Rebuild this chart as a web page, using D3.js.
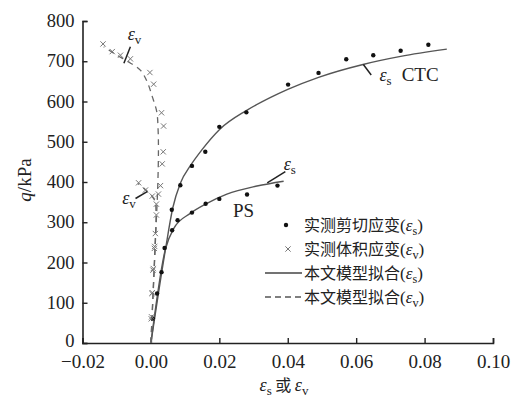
<!DOCTYPE html>
<html>
<head>
<meta charset="utf-8">
<script src="https://cdn.jsdelivr.net/npm/d3@7"></script>
<style>
body { margin: 0; background: #fff; }
text { font-family: "Liberation Serif", "DejaVu Serif", serif; }
</style>
</head>
<body>
<div id="chart"></div>
<script>
'use strict';

// ticks
var xTicks = [-0.02, 0.00, 0.02, 0.04, 0.06, 0.08, 0.10];
var yTicks = [0, 100, 200, 300, 400, 500, 600, 700, 800];

// measured shear strain (dots) [strain, q]
var ctcShear = [[0.0006, 60], [0.0018, 123], [0.0031, 176], [0.0040, 236], [0.0061, 331], [0.0086, 392],
	[0.0120, 440], [0.0159, 475], [0.0200, 537], [0.0279, 573], [0.0401, 642], [0.0490, 671],
	[0.0571, 705], [0.0650, 715], [0.0730, 726], [0.0811, 741]];
var psShear = [[0.0062, 280], [0.0078, 305], [0.0120, 324], [0.0160, 346], [0.0200, 358],
	[0.0281, 369], [0.0370, 391]];

// measured volumetric strain (crosses)
var ctcVol = [[0.0001, 60], [0.0003, 123], [0.0006, 181], [0.0010, 235], [0.0013, 272], [0.0016, 318],
	[0.0022, 370], [0.0028, 391], [0.0033, 445], [0.0036, 475], [0.0037, 539], [0.0031, 572],
	[0.0008, 643], [-0.0003, 672], [-0.0060, 706], [-0.0089, 715], [-0.0113, 724], [-0.0140, 743]];
var psVol = [[0.0002, 65], [0.0004, 125], [0.0007, 185], [0.0011, 240], [0.0016, 345],
	[0.0004, 365], [-0.0016, 380], [-0.0036, 398]];

// model fits
var ctcShearFit = [[0, 0], [0.0042, 230], [0.0064, 336], [0.0086, 397], [0.0115, 440], [0.0150, 481],
	[0.0200, 530], [0.0280, 578], [0.0350, 610], [0.0400, 630], [0.0490, 660], [0.0620, 692],
	[0.0730, 712], [0.0865, 730]];
var psShearFit = [[0, 0], [0.0042, 232], [0.0067, 285], [0.0115, 322], [0.0164, 347], [0.0222, 370],
	[0.0310, 390], [0.0388, 402]];
var ctcVolFit = [[0, 0], [0.0008, 150], [0.0014, 270], [0.0020, 390], [0.0022, 480], [0.0021, 530],
	[0.0017, 575], [0.0004, 612], [-0.0011, 649], [-0.0031, 678], [-0.0069, 700], [-0.0109, 720],
	[-0.0138, 736]];
var psVolFit = [[0, 0], [0.0006, 120], [0.0012, 240], [0.0015, 320], [0.0012, 352], [0.0002, 366],
	[-0.0016, 381], [-0.0038, 396]];

var legendLabels = ["实测剪切应变", "实测体积应变", "本文模型拟合", "本文模型拟合"];
var legendSubs = ["s", "v", "s", "v"];

var width = 515, height = 399;

var x = d3.scaleLinear().domain([-0.02, 0.10]).range([82.5, 493]);
var y = d3.scaleLinear().domain([0, 800]).range([343, 21]);

var svg = d3.select("#chart").//
append("svg").//
attr("width", width).//
attr("height", height);

// axes
var xAxis = svg.append("g").//
attr("transform", "translate(0," + y(0) + ")").//
call(d3.axisBottom(x).tickValues(xTicks).tickFormat(d3.format(".2f")).tickSizeInner(-5).tickSizeOuter(-5).tickPadding(12));
var yAxis = svg.append("g").//
attr("transform", "translate(" + x(-0.02) + ",0)").//
call(d3.axisLeft(y).tickValues(yTicks).tickSizeInner(-5).tickSizeOuter(-5).tickPadding(8));

[xAxis, yAxis].forEach(function(g) {
	g.attr("font-family", null).attr("font-size", null);
	g.select(".domain").attr("stroke", "#222").attr("stroke-width", 1.6);
	g.selectAll(".tick line").attr("stroke", "#222").attr("stroke-width", 1.4);
	g.selectAll(".tick text").attr("fill", "#222").style("font-size", "19px");
});
xAxis.selectAll(".tick text").attr("dy", "0.71em");
yAxis.selectAll(".tick text").style("font-size", "18.5px").//
attr("dy", function(d) { return d === 0 ? "0.18em" : "0.3em"; });

// lines
var lineMono = d3.line().x(function(d) { return x(d[0]); }).y(function(d) { return y(d[1]); }).curve(d3.curveMonotoneX);
var lineCR = d3.line().x(function(d) { return x(d[0]); }).y(function(d) { return y(d[1]); }).curve(d3.curveCatmullRom.alpha(0.5));

[ctcShearFit, psShearFit].forEach(function(s) {
	svg.append("path").attr("d", lineMono(s)).attr("fill", "none").attr("stroke", "#555").attr("stroke-width", 1.4);
});
[ctcVolFit, psVolFit].forEach(function(s) {
	svg.append("path").attr("d", lineCR(s)).attr("fill", "none").attr("stroke", "#666").attr("stroke-width", 1.3).attr("stroke-dasharray", "6,5");
});

// dots
svg.append("g").selectAll("circle").data(ctcShear.concat(psShear)).enter().append("circle").//
attr("cx", function(d) { return x(d[0]); }).//
attr("cy", function(d) { return y(d[1]); }).//
attr("r", 2.2).attr("fill", "#111");

// crosses
var cross = d3.symbol().type(d3.symbolTimes).size(20);
svg.append("g").selectAll("path").data(ctcVol.concat(psVol)).enter().append("path").//
attr("d", cross).//
attr("transform", function(d) { return "translate(" + x(d[0]) + "," + y(d[1]) + ")"; }).//
attr("fill", "none").attr("stroke", "#777").attr("stroke-width", 1);

// epsilon with subscript
function eps(sel, sub, size) {
	sel.append("tspan").attr("font-style", "italic").text("ε");
	sel.append("tspan").attr("font-size", (size * 0.72) + "px").attr("dy", size * 0.22).text(sub);
}

// annotations
var notes = [
	{ from: [0.0621, 692], to: [0.0644, 666], at: [0.0668, 650], sub: "s" },
	{ from: [-0.0060, 736], to: [-0.0079, 695], at: [-0.0068, 752], sub: "v" },
	{ from: [-0.0011, 376], to: [-0.0045, 359], at: [-0.0084, 345], sub: "v" },
	{ from: [0.0340, 398], to: [0.0393, 426], at: [0.0388, 430], sub: "s" }
];
notes.forEach(function(n) {
	svg.append("line").//
	attr("x1", x(n.from[0])).attr("y1", y(n.from[1])).//
	attr("x2", x(n.to[0])).attr("y2", y(n.to[1])).//
	attr("stroke", "#222").attr("stroke-width", 1.5);
	var t = svg.append("text").attr("x", x(n.at[0])).attr("y", y(n.at[1])).style("font-size", "18px").attr("fill", "#222");
	eps(t, n.sub, 18);
});

svg.append("text").attr("x", x(0.0733)).attr("y", y(652)).style("font-size", "19px").attr("fill", "#222").text("CTC");
svg.append("text").attr("x", x(0.0240)).attr("y", y(313)).style("font-size", "19px").attr("fill", "#222").text("PS");

// legend
var legend = svg.append("g");
legendLabels.forEach(function(lab, i) {
	var ly = 225 + i * 24;
	if (i === 0) {
		legend.append("circle").attr("cx", 286).attr("cy", ly).attr("r", 2.2).attr("fill", "#111");
	} else if (i === 1) {
		legend.append("path").attr("d", cross).attr("transform", "translate(288," + ly + ")").attr("fill", "none").attr("stroke", "#777");
	} else {
		legend.append("line").attr("x1", 265).attr("x2", 302).attr("y1", ly).attr("y2", ly).//
		attr("stroke", i === 2 ? "#444" : "#555").attr("stroke-width", 1.3).attr("stroke-dasharray", i === 3 ? "6,4" : null);
	}
	var t = legend.append("text").attr("x", 304).attr("y", ly + 6).attr("fill", "#222").style("font-size", "17px");
	t.append("tspan").style("font-family", "Noto Sans CJK SC").style("font-size", "16px").text(lab);
	t.append("tspan").text("(");
	eps(t, legendSubs[i], 17);
	t.append("tspan").attr("dy", -17 * 0.22).text(")");
});

// axis titles
var xt = svg.append("text").attr("x", 284).attr("y", 391).attr("text-anchor", "middle").attr("fill", "#222").style("font-size", "18px");
eps(xt, "s", 18);
xt.append("tspan").attr("dy", -18 * 0.22).style("font-family", "Noto Sans CJK SC").style("font-size", "16px").text(" 或 ");
eps(xt, "v", 18);

var yt = svg.append("text").attr("transform", "translate(31,180) rotate(-90)").attr("text-anchor", "middle").attr("fill", "#222").style("font-size", "19px");
yt.append("tspan").attr("font-style", "italic").text("q");
yt.append("tspan").text("/kPa");
</script>
</body>
</html>
